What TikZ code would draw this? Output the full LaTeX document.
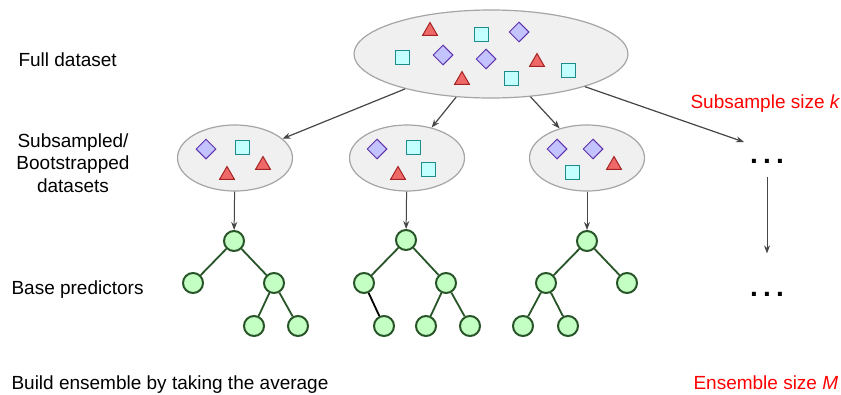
\documentclass[tikz,border=0pt]{standalone}
\usepackage{fontspec}
\setmainfont{Liberation Sans}
\usepackage{tikz}
\usetikzlibrary{arrows.meta, positioning, shapes.geometric}
\definecolor{gris}{RGB}{165,165,165}
\definecolor{grisfond}{RGB}{240,240,240}
\definecolor{grisfonce}{RGB}{70,70,70}
\definecolor{rouge}{RGB}{240,105,105}
\definecolor{rougefonce}{RGB}{165,35,35}
\definecolor{cyanclair}{RGB}{195,255,255}
\definecolor{sarcelle}{RGB}{30,140,140}
\definecolor{violetclair}{RGB}{195,195,255}
\definecolor{violetfonce}{RGB}{95,50,170}
\definecolor{vertclair}{RGB}{195,255,195}
\definecolor{vertfonce}{RGB}{40,85,40}
\definecolor{rougetexte}{RGB}{255,0,0}

\begin{document}
\begin{tikzpicture}[x=1pt, y=-1pt, font=\fontsize{19}{22.5}\selectfont,
		ens/.style={ellipse, draw=gris, fill=grisfond, line width=1.2pt, inner sep=0pt},
		tri/.style={regular polygon, regular polygon sides=3, draw=rougefonce, fill=rouge, line width=1pt, inner sep=0pt, minimum size=17pt},
		car/.style={rectangle, draw=sarcelle, fill=cyanclair, line width=1pt, inner sep=0pt, minimum size=14pt},
		los/.style={diamond, draw=violetfonce, fill=violetclair, line width=1pt, inner sep=0pt, minimum size=20pt},
		feuille/.style={circle, draw=vertfonce, fill=vertclair, line width=2pt, inner sep=0pt, minimum size=20pt},
		branche/.style={vertfonce, line width=1.8pt},
		fleche/.style={-{Stealth[length=8pt, width=6pt]}, grisfonce, line width=1.2pt},
		points/.style={font=\fontsize{28}{28}\selectfont\bfseries},
		etiq/.style={anchor=base west}]
				
				\useasboundingbox (0,0) rectangle (841,394);
				
				% Jeu complet
				\node[ens, minimum width=274pt, minimum height=88pt] (complet) at (491,54) {};
				\node[tri] (ct1) at (430,31) {};
				\node[car] (cc1) at (481,34) {};
				\node[los] (cl1) at (519,32) {};
				\node[car] (cc2) at (402,57) {};
				\node[los] (cl2) at (443,55) {};
				\node[los] (cl3) at (486,59) {};
				\node[tri] (ct2) at (537,62) {};
				\node[car] (cc3) at (568,70) {};
				\node[tri] (ct3) at (462,80) {};
				\node[car] (cc4) at (511,78) {};
				
				% Sous-echantillons
				\node[ens, minimum width=115pt, minimum height=66pt] (ech1) at (235,158) {};
				\node[los] (e1l1) at (206,149) {};
				\node[car] (e1c1) at (242,147) {};
				\node[tri] (e1t1) at (263,165) {};
				\node[tri] (e1t2) at (227,175) {};
				
				\node[ens, minimum width=115pt, minimum height=66pt] (ech2) at (407,158) {};
				\node[los] (e2l1) at (377,149) {};
				\node[car] (e2c1) at (413,147) {};
				\node[car] (e2c2) at (428,169) {};
				\node[tri] (e2t1) at (398,175) {};
				
				\node[ens, minimum width=115pt, minimum height=66pt] (ech3) at (587,158) {};
				\node[los] (e3l1) at (557,149) {};
				\node[los] (e3l2) at (593,149) {};
				\node[tri] (e3t1) at (614,165) {};
				\node[car] (e3c1) at (572,172) {};
				
				\node[points] (pts1) at (767,161) {.\kern5.2pt.\kern5.2pt.};
				\coordinate (fin1) at (744,142);
				
				% Arbres
				\node[feuille] (r1) at (234,241) {};
				\node[feuille] (a1) at (193,283) {};
				\node[feuille] (b1) at (274,283) {};
				\node[feuille] (c1) at (254,326) {};
				\node[feuille] (d1) at (298,326) {};
				
				\node[feuille] (r2) at (406,240) {};
				\node[feuille] (a2) at (364,283) {};
				\node[feuille] (b2) at (446,283) {};
				\node[feuille] (c2) at (384,326) {};
				\node[feuille] (d2) at (426,326) {};
				\node[feuille] (e2) at (470,326) {};
				
				\node[feuille] (r3) at (587,241) {};
				\node[feuille] (a3) at (546,283) {};
				\node[feuille] (b3) at (627,283) {};
				\node[feuille] (c3) at (523,326) {};
				\node[feuille] (d3) at (568,326) {};
				
				\node[points] (pts2) at (767,294) {.\kern5.2pt.\kern5.2pt.};
				
				\draw[branche] (r1) -- (a1);
				\draw[branche] (r1) -- (b1);
				\draw[branche] (b1) -- (c1);
				\draw[branche] (b1) -- (d1);
				\draw[branche] (r2) -- (a2);
				\draw[branche] (r2) -- (b2);
				\draw[line width=1.8pt] (a2) -- (c2);
				\draw[branche] (b2) -- (d2);
				\draw[branche] (b2) -- (e2);
				\draw[branche] (r3) -- (a3);
				\draw[branche] (r3) -- (b3);
				\draw[branche] (a3) -- (c3);
				\draw[branche] (a3) -- (d3);
				
				% Fleches
				\draw[fleche] (complet) -- (ech1);
				\draw[fleche] (complet) -- (ech2);
				\draw[fleche] (complet) -- (ech3);
				\draw[fleche] (complet) -- (fin1);
				\draw[fleche, line width=1pt] (ech1) -- (r1);
				\draw[fleche, line width=1pt] (ech2) -- (r2);
				\draw[fleche, line width=1pt] (ech3) -- (r3);
				\draw[fleche, line width=1pt, shorten <=10pt, shorten >=35pt] (pts1) -- (pts2);
				
				% Textes
				\node[etiq] (tcomplet) at (15,66) {Full dataset};
				\node[align=center] (tech) at (73,163) {Subsampled/\\Bootstrapped\\datasets};
				\node[etiq] (tbase) at (8,294) {Base predictors};
				\node[etiq] (tmoy) at (8,389) {Build ensemble by taking the average};
				\node[etiq, rougetexte] (tk) at (687,108) {Subsample size \textit{k}};
				\node[etiq, rougetexte] (tm) at (690,389) {Ensemble size \textit{M}};
				
			\end{tikzpicture}
\end{document}
